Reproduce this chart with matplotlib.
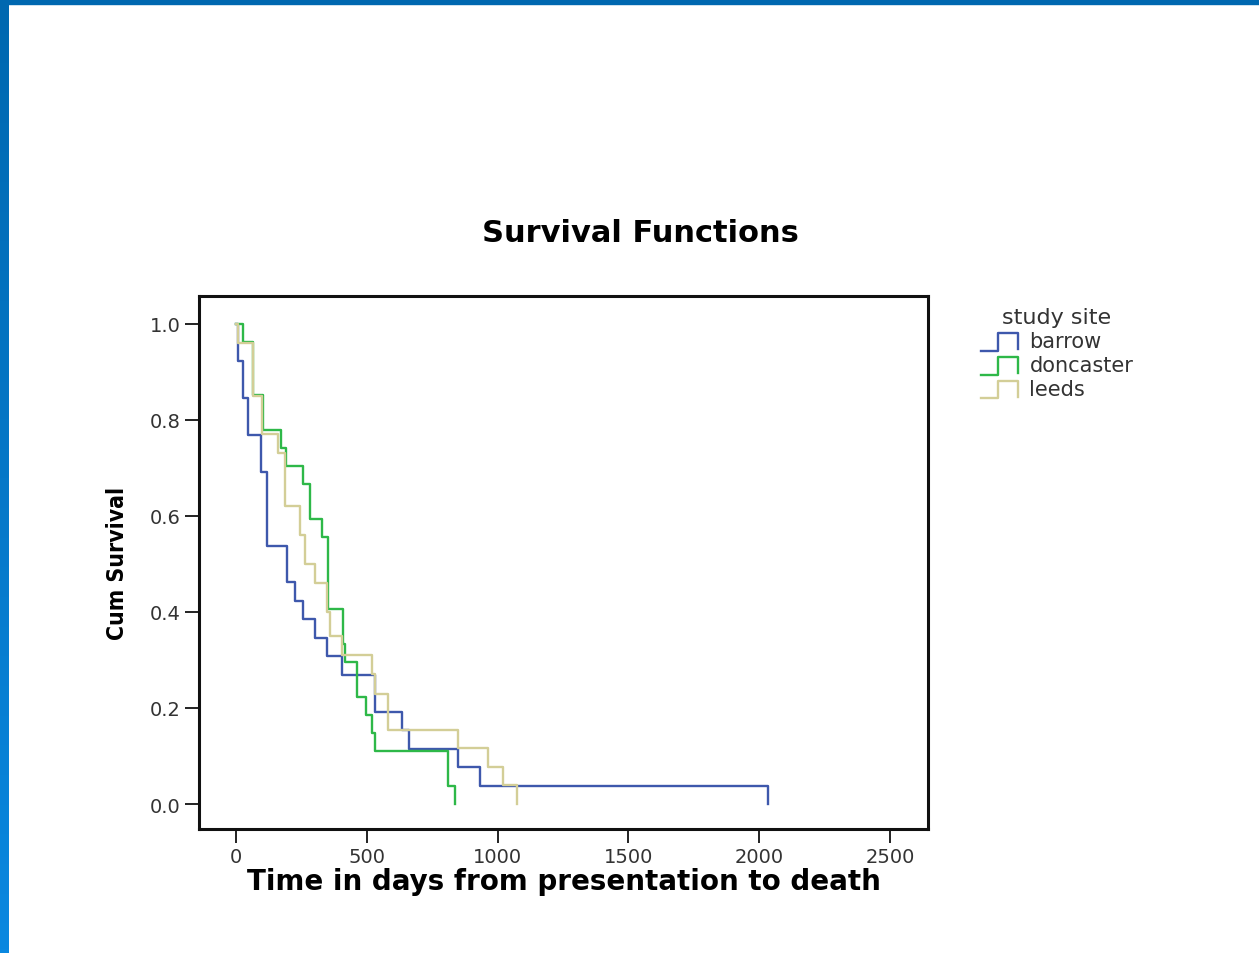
import matplotlib
matplotlib.use("Agg")
import matplotlib.pyplot as plt
import numpy as np
from matplotlib.lines import Line2D
from matplotlib.legend_handler import HandlerBase

# Kaplan-Meier steps: (time in days, survival after the drop)
barrow_t = [0, 8, 27, 46, 96, 118, 195, 226, 256, 302, 348, 405, 531, 635, 661, 849, 933, 2034]
barrow_s = [1.0, 0.923, 0.846, 0.769, 0.692, 0.538, 0.462, 0.423, 0.385, 0.346, 0.308, 0.269,
            0.192, 0.154, 0.115, 0.077, 0.038, 0.0]

doncaster_t = [0, 27, 65, 103, 172, 191, 256, 283, 329, 352, 409, 416, 462, 497, 520, 532, 810, 837]
doncaster_s = [1.0, 0.963, 0.852, 0.778, 0.741, 0.704, 0.667, 0.593, 0.556, 0.407, 0.333, 0.296,
               0.222, 0.185, 0.148, 0.111, 0.037, 0.0]

leeds_t = [0, 8, 65, 100, 160, 187, 245, 264, 302, 348, 359, 405, 520, 532, 581, 849, 963, 1021, 1074]
leeds_s = [1.0, 0.96, 0.85, 0.77, 0.73, 0.62, 0.56, 0.50, 0.46, 0.40, 0.35, 0.31, 0.27, 0.23,
           0.155, 0.117, 0.077, 0.04, 0.0]

sites = ["barrow", "doncaster", "leeds"]
colors = ["#3E58AC", "#2EB848", "#D3CE97"]


class StepHandler(HandlerBase):
    # little step icon like the SPSS legend
    def create_artists(self, legend, orig_handle, xdescent, ydescent, width, height, fontsize, trans):
        x0, y0 = -xdescent, -ydescent - 0.25 * height
        h = height * 1.2
        xs = [x0, x0 + 0.45 * width, x0 + 0.45 * width, x0 + 0.95 * width, x0 + 0.95 * width]
        ys = [y0, y0, y0 + h, y0 + h, y0 + 0.1 * h]
        line = Line2D(xs, ys, color=orig_handle.get_color(), lw=orig_handle.get_linewidth(),
                      transform=trans)
        return [line]


fig = plt.figure(figsize=(12.59, 9.54), dpi=100)

# blue slide frame
fig.patches.append(plt.Rectangle((0, 1 - 5 / 954), 1, 5 / 954, transform=fig.transFigure,
                                 color="#0068B0", zorder=0))
grad_ax = fig.add_axes([0, 0, 9 / 1259, 1 - 5 / 954])
grad = np.linspace(0, 1, 256).reshape(-1, 1)
grad_ax.imshow(grad, aspect="auto", cmap=matplotlib.colors.LinearSegmentedColormap.from_list(
    "edge", ["#0068B0", "#0A88E0"]))
grad_ax.axis("off")

ax = fig.add_axes([199 / 1259, 124 / 954, 729 / 1259, 533 / 954])

handles = []
for t, s, c, name in zip([barrow_t, doncaster_t, leeds_t], [barrow_s, doncaster_s, leeds_s],
                         colors, sites):
    ln, = ax.step(t, s, where="post", color=c, lw=1.7, label=name)
    handles.append(ln)

ax.set_xlim(-141, 2645)
ax.set_ylim(-0.052, 1.058)
ax.set_xticks([0, 500, 1000, 1500, 2000, 2500])
ax.set_yticks([0.0, 0.2, 0.4, 0.6, 0.8, 1.0])
ax.set_yticklabels(["0.0", "0.2", "0.4", "0.6", "0.8", "1.0"])
ax.tick_params(axis="both", direction="out", length=10, width=1.4, colors="#222222",
               labelsize=14, labelcolor="#333333", pad=3)
for sp in ax.spines.values():
    sp.set_linewidth(2.2)
    sp.set_color("#111111")

ax.set_xlabel("Time in days from presentation to death", fontsize=20, fontweight="bold",
              labelpad=1)
ax.set_ylabel("Cum Survival", fontsize=16.5, fontweight="bold", fontstretch="condensed",
              family=["DejaVu Sans"], labelpad=15)
fig.text(0.509, 0.755, "Survival Functions", ha="center", va="center", fontsize=22,
         fontweight="bold")

leg = fig.legend(handles=handles, labels=sites, title="study site",
                 handler_map={Line2D: StepHandler()},
                 loc="upper left", bbox_to_anchor=(968 / 1259, 1 - 296 / 954),
                 frameon=False, fontsize=15, title_fontsize=16, handlelength=1.9,
                 handletextpad=0.45, labelspacing=0.18, borderpad=0.1)
leg.get_title().set_color("#333333")
for txt in leg.get_texts():
    txt.set_color("#333333")

fig.savefig("out.png", dpi=100)
